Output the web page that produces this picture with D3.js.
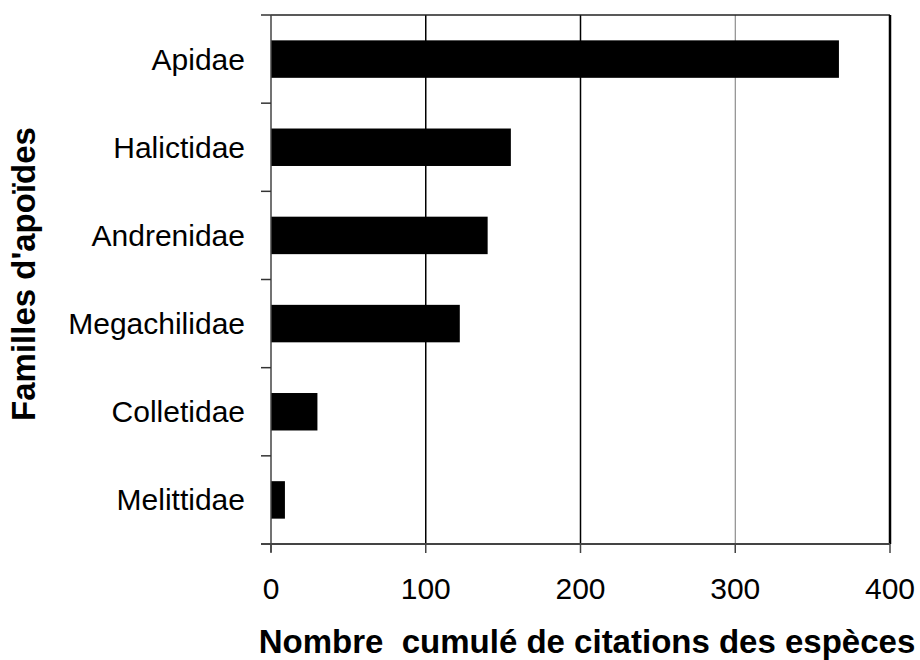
<!DOCTYPE html>
<meta charset='utf-8'>
<style>
body { margin: 0; background: #fff; }
text { font-family: Arial, "Liberation Sans", sans-serif; fill: #000; }
.cat, .tick-label { font-size: 30px; }
.title { font-size: 33px; font-weight: bold; white-space: pre; }
</style>
<svg width='920' height='660'></svg>
<script src='https://d3js.org/d3.v7.min.js'></script>
<script>
// familles d'apoïdes, du haut vers le bas
var families = ['Apidae', 'Halictidae', 'Andrenidae', 'Megachilidae', 'Colletidae', 'Melittidae'];
var citations = [367, 155, 140, 122, 30, 9];
var xTicks = [0, 100, 200, 300, 400];

var svg = d3.select('svg'),
    plotLeft = 271, plotRight = 890, plotTop = 15, plotBottom = 544;

var x = d3.scaleLinear().domain([0, 400]).range([plotLeft, plotRight]);
var y = d3.scaleBand()
    .domain(families)
    .range([plotTop, plotBottom])
    .paddingInner(0.575)
    .paddingOuter(0.2875);

var data = families.map(function(f, i) { return { name: f, value: citations[i] }; });

// gridlines
svg.append('g').selectAll('line')
    .data(xTicks.slice(1, -1))
    .enter().append('line')
    .attr('x1', function(d) { return x(d); })
    .attr('x2', function(d) { return x(d); })
    .attr('y1', plotTop).attr('y2', plotBottom)
    .attr('stroke', function(d) { return d == 300 ? '#777' : '#000'; })
    .attr('stroke-width', function(d) { return d == 300 ? 1 : 1.5; });

// bars
svg.append('g').selectAll('rect')
    .data(data)
    .enter().append('rect')
    .attr('x', x(0))
    .attr('y', function(d) { return y(d.name); })
    .attr('width', function(d) { return x(d.value) - x(0); })
    .attr('height', y.bandwidth())
    .attr('fill', '#000');

// frame: top and right
svg.append('line').attr('x1', plotLeft).attr('x2', plotRight).attr('y1', plotTop).attr('y2', plotTop)
    .attr('stroke', '#222').attr('stroke-width', 1.5);
svg.append('line').attr('x1', plotRight).attr('x2', plotRight).attr('y1', plotTop).attr('y2', plotBottom)
    .attr('stroke', '#000').attr('stroke-width', 2.5);

// y axis with ticks between categories
var step = y.step();
var yBounds = d3.range(families.length + 1).map(function(i) { return plotTop + i * step; });
svg.append('line').attr('x1', plotLeft).attr('x2', plotLeft).attr('y1', plotTop).attr('y2', plotBottom + 8)
    .attr('stroke', '#444').attr('stroke-width', 1.5);
svg.append('g').selectAll('line')
    .data(yBounds)
    .enter().append('line')
    .attr('x1', plotLeft - 10).attr('x2', plotLeft)
    .attr('y1', function(d) { return d; }).attr('y2', function(d) { return d; })
    .attr('stroke', '#333').attr('stroke-width', 1.5);

svg.append('g').selectAll('text')
    .data(families)
    .enter().append('text')
    .attr('class', 'cat')
    .attr('x', plotLeft - 26)
    .attr('y', function(d) { return y(d) + y.bandwidth() / 2; })
    .attr('dy', '0.35em')
    .attr('text-anchor', 'end')
    .text(function(d) { return d; });

// x axis
svg.append('line').attr('x1', plotLeft - 10).attr('x2', plotRight).attr('y1', plotBottom).attr('y2', plotBottom)
    .attr('stroke', '#444').attr('stroke-width', 2);
svg.append('g').selectAll('line')
    .data(xTicks)
    .enter().append('line')
    .attr('x1', function(d) { return x(d); }).attr('x2', function(d) { return x(d); })
    .attr('y1', plotBottom).attr('y2', plotBottom + 9)
    .attr('stroke', '#444').attr('stroke-width', 1.5);
svg.append('g').selectAll('text')
    .data(xTicks)
    .enter().append('text')
    .attr('class', 'tick-label')
    .attr('x', function(d) { return x(d); })
    .attr('y', 599)
    .attr('text-anchor', 'middle')
    .text(function(d) { return d; });

// titles
svg.append('text')
    .attr('class', 'title')
    .attr('x', 587)
    .attr('y', 653)
    .attr('text-anchor', 'middle')
    .text('Nombre  cumulé de citations des espèces');

svg.append('text')
    .attr('class', 'title')
    .attr('transform', 'translate(35,274) rotate(-90)')
    .attr('text-anchor', 'middle')
    .text("Familles d'apoïdes");
</script>
